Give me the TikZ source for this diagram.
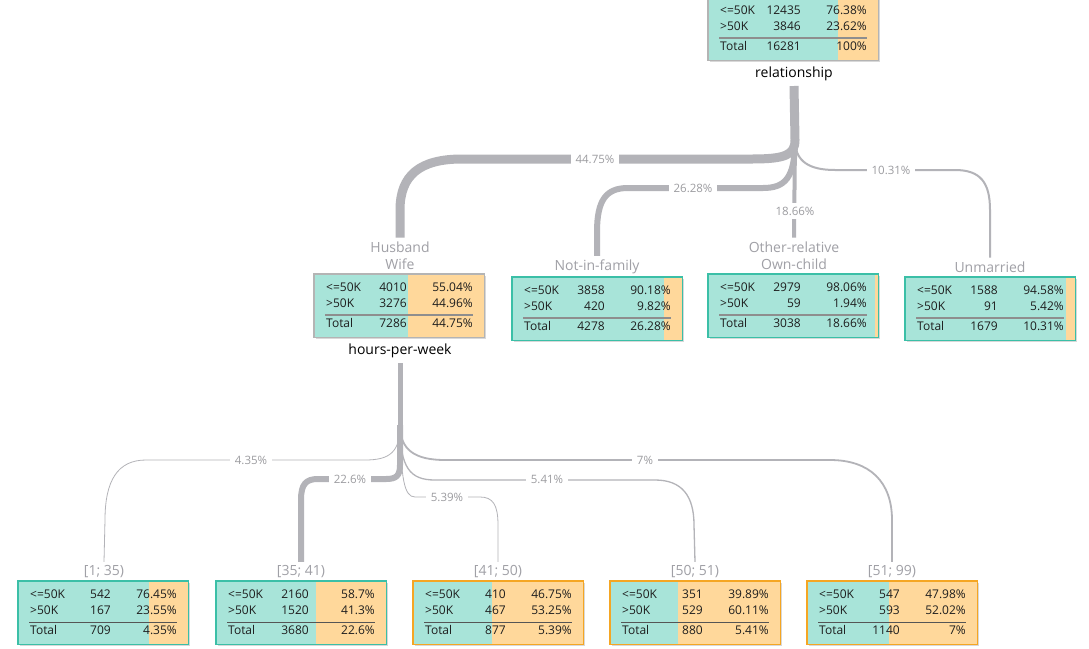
\documentclass[tikz,border=0pt]{standalone}
\usepackage{fontspec}
\setmainfont{Open Sans}
\usetikzlibrary{shadows}
\definecolor{tealf}{HTML}{A8E4D9}
\definecolor{orfill}{HTML}{FFD89B}
\definecolor{tealb}{HTML}{3BBFA7}
\definecolor{orb}{HTML}{F5A623}
\definecolor{grayb}{HTML}{B4B4B4}
\definecolor{conngray}{HTML}{B3B3B8}
\definecolor{pctgray}{HTML}{9C9CA0}
\definecolor{catgray}{HTML}{A0A0A6}
\definecolor{txt}{HTML}{1E1E1E}
\definecolor{ruleg}{HTML}{8E8E8E}
\definecolor{ruled}{HTML}{555555}
\tikzset{
 boxshape/.style={rectangle, minimum width=170pt, minimum height=63pt, fill=tealf, inner sep=0pt,
   drop shadow={shadow xshift=1.5pt, shadow yshift=-2pt, opacity=0.3, fill=black!50}},
 conn/.style={draw=conngray, line cap=butt},
 pct/.style={fill=white, text=pctgray, font=\fontsize{11.5}{12}\selectfont, inner xsep=5pt, inner ysep=2pt},
 cat/.style={text=catgray, font=\fontsize{14}{16}\selectfont, align=center, inner sep=2pt, outer sep=2pt},
 splitlbl/.style={text=black, font=\fontsize{14}{16}\selectfont, inner sep=2pt, outer sep=3pt},
 cell/.style={font=\fontsize{12}{13}\selectfont, text=txt, inner sep=0pt},
 ruleup/.style={ruleg, line width=2pt},
 ruledn/.style={ruled, line width=0.9pt},
 bdteal/.style={draw=tealb, line width=1.2pt},
 bdor/.style={draw=orb, line width=1.2pt},
 bdgray/.style={draw=grayb, line width=1.2pt}
}
% #1 name, #2 left, #3 top, #4 orange start x, #5 border style, #6 rule style
\newcommand\dbox[6]{%
 \node[boxshape, anchor=north west] (#1) at (#2,#3) {};
 \fill[orfill] (#4,#3) rectangle (#2+170,#3+63);
 \draw[#5] (#1.north west) rectangle (#1.south east);
 \draw[#6] (#2+11,#3+41) -- (#2+159,#3+41);
}
% #1 prefix, #2 left, #3 top, #4..#9 values
\newcommand\dtext[9]{%
 \node[cell, anchor=base west] (#1-l1) at (#2+12,#3+17) {<=50K};
 \node[cell, anchor=base east] (#1-c1) at (#2+93,#3+17) {#4};
 \node[cell, anchor=base east] (#1-p1) at (#2+159,#3+17) {#5};
 \node[cell, anchor=base west] (#1-l2) at (#2+12,#3+33.5) {>50K};
 \node[cell, anchor=base east] (#1-c2) at (#2+93,#3+33.5) {#6};
 \node[cell, anchor=base east] (#1-p2) at (#2+159,#3+33.5) {#7};
 \node[cell, anchor=base west] (#1-l3) at (#2+12,#3+53.5) {Total};
 \node[cell, anchor=base east] (#1-c3) at (#2+93,#3+53.5) {#8};
 \node[cell, anchor=base east] (#1-p3) at (#2+159,#3+53.5) {#9};
}
\begin{document}
\begin{tikzpicture}[x=1pt,y=-1pt]
\useasboundingbox (0,0) rectangle (1089,648);
\fill[white] (0,0) rectangle (1089,648);

% ---------- boxes ----------
\dbox{root}{708}{-3}{838}{bdgray}{ruleup}
\dtext{rt}{708}{-3}{12435}{76.38\%}{3846}{23.62\%}{16281}{100\%}

\dbox{hw}{314}{274}{408}{bdgray}{ruleup}
\dtext{hwt}{314}{274}{4010}{55.04\%}{3276}{44.96\%}{7286}{44.75\%}

\dbox{nif}{512}{277}{664}{bdteal}{ruleup}
\dtext{nift}{512}{277}{3858}{90.18\%}{420}{9.82\%}{4278}{26.28\%}

\dbox{orc}{708}{274}{875}{bdteal}{ruleup}
\dtext{orct}{708}{274}{2979}{98.06\%}{59}{1.94\%}{3038}{18.66\%}

\dbox{un}{905}{277}{1066}{bdteal}{ruleup}
\dtext{unt}{905}{277}{1588}{94.58\%}{91}{5.42\%}{1679}{10.31\%}

\dbox{b1}{18}{581}{149}{bdteal}{ruledn}
\dtext{b1t}{18}{581}{542}{76.45\%}{167}{23.55\%}{709}{4.35\%}

\dbox{b2}{216}{581}{316}{bdteal}{ruledn}
\dtext{b2t}{216}{581}{2160}{58.7\%}{1520}{41.3\%}{3680}{22.6\%}

\dbox{b3}{413}{581}{492}{bdor}{ruledn}
\dtext{b3t}{413}{581}{410}{46.75\%}{467}{53.25\%}{877}{5.39\%}

\dbox{b4}{610}{581}{678}{bdor}{ruledn}
\dtext{b4t}{610}{581}{351}{39.89\%}{529}{60.11\%}{880}{5.41\%}

\dbox{b5}{807}{581}{889}{bdor}{ruledn}
\dtext{b5t}{807}{581}{547}{47.98\%}{593}{52.02\%}{1140}{7\%}

% ---------- labels ----------
\node[splitlbl] (lrel) at (794,74) {relationship};
\node[splitlbl] (lhpw) at (400,351) {hours-per-week};
\node[cat] (lhw) at (400,255.5) {Husband\\[1pt]Wife};
\node[cat] (lnif) at (597,267) {Not-in-family};
\node[cat] (lorc) at (794,255.5) {Other-relative\\[1pt]Own-child};
\node[cat] (lun) at (990,267) {Unmarried};
\node[cat] (l1) at (104,572) {[1; 35)};
\node[cat] (l2) at (301,572) {[35; 41)};
\node[cat] (l3) at (498,572) {[41; 50)};
\node[cat] (l4) at (695,572) {[50; 51)};
\node[cat] (l5) at (892,572) {[51; 99)};

% ---------- top connectors ----------
\coordinate (j1) at (795,140);
\draw[conn, line width=9pt] (lrel.south) -- (j1);
\draw[conn, line width=9pt] (j1) .. controls (795,155) and (785,159) .. (752,159) -- (462,159)
   .. controls (420,159) and (400,175) .. (400,210) -- (lhw.north);
\draw[conn, line width=6pt] (j1) .. controls (795,178) and (785,188) .. (763,188) -- (628,188)
   .. controls (606,188) and (597,200) .. (597,232) -- (lnif.north);
\draw[conn, line width=4pt] (j1) -- (lorc.north);
\draw[conn, line width=2pt] (j1) .. controls (795,162) and (810,170) .. (835,170) -- (955,170)
   .. controls (980,170) and (990,182) .. (990,210) -- (lun.north);
\node[pct] (p1) at (595,159) {44.75\%};
\node[pct] (p2) at (693,188) {26.28\%};
\node[pct, inner ysep=4pt] (p3) at (795,211) {18.66\%};
\node[pct] (p4) at (891,170) {10.31\%};

% ---------- bottom connectors ----------
\coordinate (j2) at (400,425);
\draw[conn, line width=5pt] (lhpw.south) -- (j2);
\draw[conn, line width=0.8pt] (j2) .. controls (400,452) and (390,460) .. (365,460) -- (146,460)
   .. controls (118,460) and (105,480) .. (105,520) -- (l1.north);
\draw[conn, line width=6pt] (j2) -- (400,465) .. controls (400,476) and (396,479) .. (386,479) -- (318,479)
   .. controls (306,479) and (301,484) .. (301,500) -- (l2.north);
\draw[conn, line width=0.8pt] (j2) .. controls (401,478) and (404,497) .. (415,497) -- (480,497)
   .. controls (493,497) and (498,505) .. (498,525) -- (l3.north);
\draw[conn, line width=1.3pt] (j2) .. controls (400,468) and (410,480) .. (435,480) -- (655,480)
   .. controls (682,480) and (694,496) .. (694,525) -- (l4.north);
\draw[conn, line width=1.8pt] (j2) .. controls (400,450) and (415,460) .. (445,460) -- (830,460)
   .. controls (870,460) and (892,482) .. (892,520) -- (l5.north);
\node[pct] (q1) at (251,460) {4.35\%};
\node[pct] (q2) at (350,479) {22.6\%};
\node[pct] (q3) at (447,497) {5.39\%};
\node[pct] (q4) at (547,479) {5.41\%};
\node[pct] (q5) at (645,460) {7\%};
\end{tikzpicture}
\end{document}
